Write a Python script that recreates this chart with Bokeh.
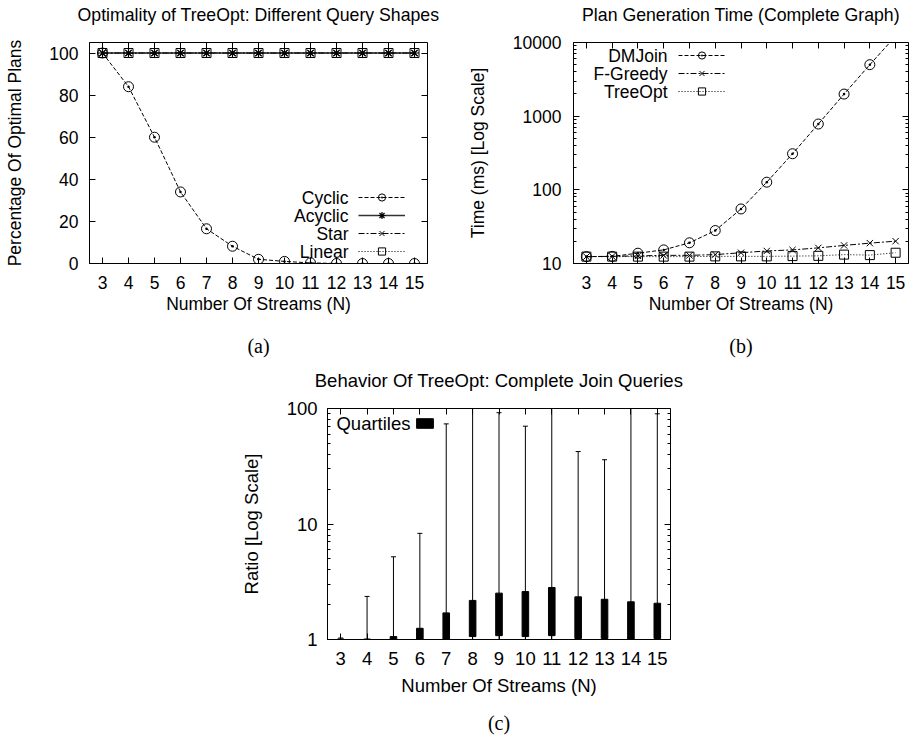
from bokeh.plotting import figure
from bokeh.models import (FixedTicker, LinearAxis, Legend, LegendItem, Label,
                          BasicTickFormatter, CustomJSTickFormatter, Spacer)
from bokeh.layouts import column, row
from bokeh.embed import file_html
from bokeh.resources import INLINE

FONT = "Liberation Sans"
SERIF = "Liberation Serif"

# ---------------- data ----------------
streams = [3, 4, 5, 6, 7, 8, 9, 10, 11, 12, 13, 14, 15]

# (a) Optimality of TreeOpt (percentage of optimal plans)
shape_names = ["Cyclic", "Acyclic", "Star", "Linear"]
cyclic = [100, 84, 60, 34, 16.5, 8.2, 2.0, 1.0, 0.3, 0.0, 0.0, 0.0, 0.0]
acyclic = [100, 100, 100, 100, 100, 100, 100, 100, 100, 100, 100, 100, 100]
star = [100, 100, 100, 100, 100, 100, 100, 100, 100, 100, 100, 100, 100]
linear = [100, 100, 100, 100, 100, 100, 100, 100, 100, 100, 100, 100, 100]
pct_ticks = [0, 20, 40, 60, 80, 100]

# (b) Plan generation time (ms)
algo_names = ["DMJoin", "F-Greedy", "TreeOpt"]
dmjoin = [12.4, 12.5, 13.8, 15.3, 19.1, 28, 55, 127, 309, 782, 1995, 5000, 12200]
fgreedy = [12.4, 12.5, 12.7, 12.9, 12.9, 13.2, 14.0, 14.8, 15.3, 16.3, 17.6, 18.9, 20.1]
treeopt = [12.4, 12.4, 12.4, 12.4, 12.4, 12.5, 12.5, 12.5, 12.6, 12.7, 13.2, 13.0, 14.0]
time_ticks = [10, 100, 1000, 10000]

# (c) Ratio distribution (min / quartiles / max)
ratio_min = [1.0, 1.0, 1.0, 1.0, 1.0, 1.0, 1.0, 1.0, 1.0, 1.0, 1.0, 1.0, 1.0]
ratio_q1 = [1.0, 1.0, 1.0, 1.0, 1.0, 1.06, 1.08, 1.06, 1.08, 1.02, 1.02, 1.0, 1.02]
ratio_q3 = [1.01, 1.01, 1.06, 1.25, 1.70, 2.18, 2.52, 2.60, 2.82, 2.34, 2.23, 2.12, 2.06]
ratio_max = [1.03, 2.36, 5.2, 8.3, 73.6, 150, 92, 70.3, 200, 42.4, 36, 130, 90]
ratio_ticks = [1, 10, 100]

titles = ["Optimality of TreeOpt: Different Query Shapes",
          "Plan Generation Time (Complete Graph)",
          "Behavior Of TreeOpt: Complete Join Queries"]
captions = ["(a)", "(b)", "(c)"]


def log_minor(decades):
    return [m * 10 ** e for e in decades for m in range(2, 10)]


def style_axis(ax, fs, standoff, label_standoff):
    ax.axis_line_color = "black"
    ax.major_tick_line_color = "black"
    ax.minor_tick_line_color = "black"
    ax.major_tick_in = 6
    ax.major_tick_out = 0
    ax.minor_tick_in = 3
    ax.minor_tick_out = 0
    ax.major_label_text_font = FONT
    ax.major_label_text_font_size = f"{fs}px"
    ax.major_label_text_color = "black"
    ax.major_label_standoff = standoff
    ax.axis_label_text_font = FONT
    ax.axis_label_text_font_size = f"{fs}px"
    ax.axis_label_text_font_style = "normal"
    ax.axis_label_text_color = "black"
    ax.axis_label_standoff = label_standoff


def mirror_axis(t, label=None, font=FONT, fs=17.5, standoff=0):
    ax = LinearAxis(ticker=t, formatter=CustomJSTickFormatter(code="return ''"))
    ax.axis_line_color = None
    ax.major_label_text_font_size = "1px"
    ax.major_label_standoff = 0
    ax.major_tick_in = 6
    ax.major_tick_out = 0
    ax.minor_tick_in = 3
    ax.minor_tick_out = 0
    ax.major_tick_line_color = "black"
    ax.minor_tick_line_color = "black"
    if label is not None:
        ax.axis_label = label
        ax.axis_label_text_font = font
        ax.axis_label_text_font_size = f"{fs}px"
        ax.axis_label_text_font_style = "normal"
        ax.axis_label_text_color = "black"
        ax.axis_label_standoff = standoff
    return ax


def decorate(fig, xt, yt, title, fs, title_standoff, cap, cap_standoff):
    fig.xgrid.visible = False
    fig.ygrid.visible = False
    fig.outline_line_color = "black"
    fig.outline_line_width = 1
    # top mirror ticks + title, right mirror ticks
    fig.add_layout(mirror_axis(xt, title, FONT, fs, title_standoff), "above")
    fig.add_layout(mirror_axis(yt), "right")
    # caption below the axis label
    cax = mirror_axis(FixedTicker(ticks=[]), cap, SERIF, 20, cap_standoff)
    cax.major_tick_in = 0
    fig.add_layout(cax, "below")


def key(fig, names, renderer_groups, text_x, glyph_x, first_y, row_h, gw, gh, fs):
    """gnuplot-style key: right-aligned text followed by the line sample."""
    n = len(names)
    items = [LegendItem(label="", renderers=r) for r in renderer_groups]
    bottom = first_y - (n - 1) * row_h - row_h / 2
    lg = Legend(items=items, location=(glyph_x, int(round(bottom))),
                orientation="vertical", glyph_width=gw, glyph_height=gh,
                label_width=0, label_height=gh, label_standoff=0,
                label_text_font_size="1px", padding=0, margin=0, spacing=row_h - gh,
                border_line_color=None, background_fill_alpha=0)
    fig.add_layout(lg)
    for i, name in enumerate(names):
        fig.add_layout(Label(x=text_x, y=first_y - i * row_h, x_units="screen",
                             y_units="screen", text=name, text_align="right",
                             text_baseline="middle", text_font=FONT,
                             text_font_size=f"{fs}px", text_color="black"))


FS_AB = 17.5
FS_C = 18.5
xt = FixedTicker(ticks=streams)

# ---------------- (a) ----------------
pa = figure(width=450, height=366, x_range=(2.5, 15.5), y_range=(0, 105),
            min_border_left=89, min_border_right=23, min_border_top=42,
            min_border_bottom=103, output_backend="svg", toolbar_location=None,
            x_axis_label="Number Of Streams (N)",
            y_axis_label="Percentage Of Optimal Plans")
yt_a = FixedTicker(ticks=pct_ticks)
pa.xaxis.ticker = xt
pa.yaxis.ticker = yt_a
style_axis(pa.xaxis[0], FS_AB, 12, 2)
style_axis(pa.yaxis[0], FS_AB, 11, 21)
decorate(pa, xt, yt_a, titles[0], 17.7, 18, captions[0], 18)

la1 = pa.line(streams, cyclic, line_color="black", line_dash="4 2", line_width=1)
sa1 = pa.scatter(streams, cyclic, marker="circle_dot", size=10, fill_color=None,
                 line_color="black", line_width=1)
la2 = pa.line(streams, acyclic, line_color="#333333", line_width=1.5)
sa2 = pa.scatter(streams, acyclic, marker="asterisk", size=9, line_color="black",
                 line_width=1.2)
la3 = pa.line(streams, star, line_color="black", line_dash="6 2 2 2", line_width=1)
sa3 = pa.scatter(streams, star, marker="x", size=9, line_color="black", line_width=1)
la4 = pa.line(streams, linear, line_color="black", line_dash="1 2", line_width=1)
sa4 = pa.scatter(streams, linear, marker="square", size=9, fill_color=None,
                 line_color="black", line_width=1)
key(pa, shape_names, [[la1, sa1], [la2, sa2], [la3, sa3], [la4, sa4]],
    259, 269, 66, 18, 47, 18, FS_AB)

# ---------------- (b) ----------------
pb = figure(width=460, height=366, x_range=(2.5, 15.5), y_range=(10, 10000),
            y_axis_type="log",
            min_border_left=123, min_border_right=2, min_border_top=42,
            min_border_bottom=103, output_backend="svg", toolbar_location=None,
            x_axis_label="Number Of Streams (N)",
            y_axis_label="Time (ms) [Log Scale]")
yt_b = FixedTicker(ticks=time_ticks, minor_ticks=log_minor((1, 2, 3)))
pb.xaxis.ticker = xt
pb.yaxis.ticker = yt_b
pb.yaxis.formatter = BasicTickFormatter(use_scientific=False)
style_axis(pb.xaxis[0], FS_AB, 12, 2)
style_axis(pb.yaxis[0], FS_AB, 12, 22)
decorate(pb, xt, yt_b, titles[1], 17.7, 18, captions[1], 18)

lb1 = pb.line(streams, dmjoin, line_color="black", line_dash="4 2", line_width=1)
sb1 = pb.scatter(streams, dmjoin, marker="circle_dot", size=10, fill_color=None,
                 line_color="black", line_width=1)
lb2 = pb.line(streams, fgreedy, line_color="black", line_dash="6 2 2 2", line_width=1)
sb2 = pb.scatter(streams, fgreedy, marker="x", size=9, line_color="black", line_width=1)
lb3 = pb.line(streams, treeopt, line_color="black", line_dash="1 2", line_width=1)
sb3 = pb.scatter(streams, treeopt, marker="square", size=9, fill_color=None,
                 line_color="black", line_width=1)
key(pb, algo_names, [[lb1, sb1], [lb2, sb2], [lb3, sb3]],
    94, 105, 208, 18, 47, 18, FS_AB)

# ---------------- (c) ----------------
pc = figure(width=460, height=371, x_range=(2.5, 15.5), y_range=(1, 100),
            y_axis_type="log",
            min_border_left=97, min_border_right=20, min_border_top=42,
            min_border_bottom=98, output_backend="svg", toolbar_location=None,
            x_axis_label="Number Of Streams (N)",
            y_axis_label="Ratio [Log Scale]")
yt_c = FixedTicker(ticks=ratio_ticks, minor_ticks=log_minor((0, 1)))
pc.xaxis.ticker = xt
pc.yaxis.ticker = yt_c
pc.yaxis.formatter = BasicTickFormatter(use_scientific=False)
style_axis(pc.xaxis[0], FS_C, 12, 7)
style_axis(pc.yaxis[0], FS_C, 10, 22)
decorate(pc, xt, yt_c, titles[2], FS_C, 18, captions[2], 13)

pc.segment(x0=streams, y0=ratio_min, x1=streams, y1=ratio_max,
           line_color="black", line_width=1)
pc.scatter(streams, ratio_max, marker="dash", size=5, line_color="black", line_width=1)
bx = pc.vbar(x=streams, width=0.25, bottom=ratio_q1, top=ratio_q3,
             fill_color="black", line_color="black")
key(pc, ["Quartiles"], [[bx]], 83, 87, 216, 12, 21, 12, FS_C)

layout = column(row(pa, pb), row(Spacer(width=230, height=371), pc))
open("out.html", "w").write(file_html(layout, INLINE))
